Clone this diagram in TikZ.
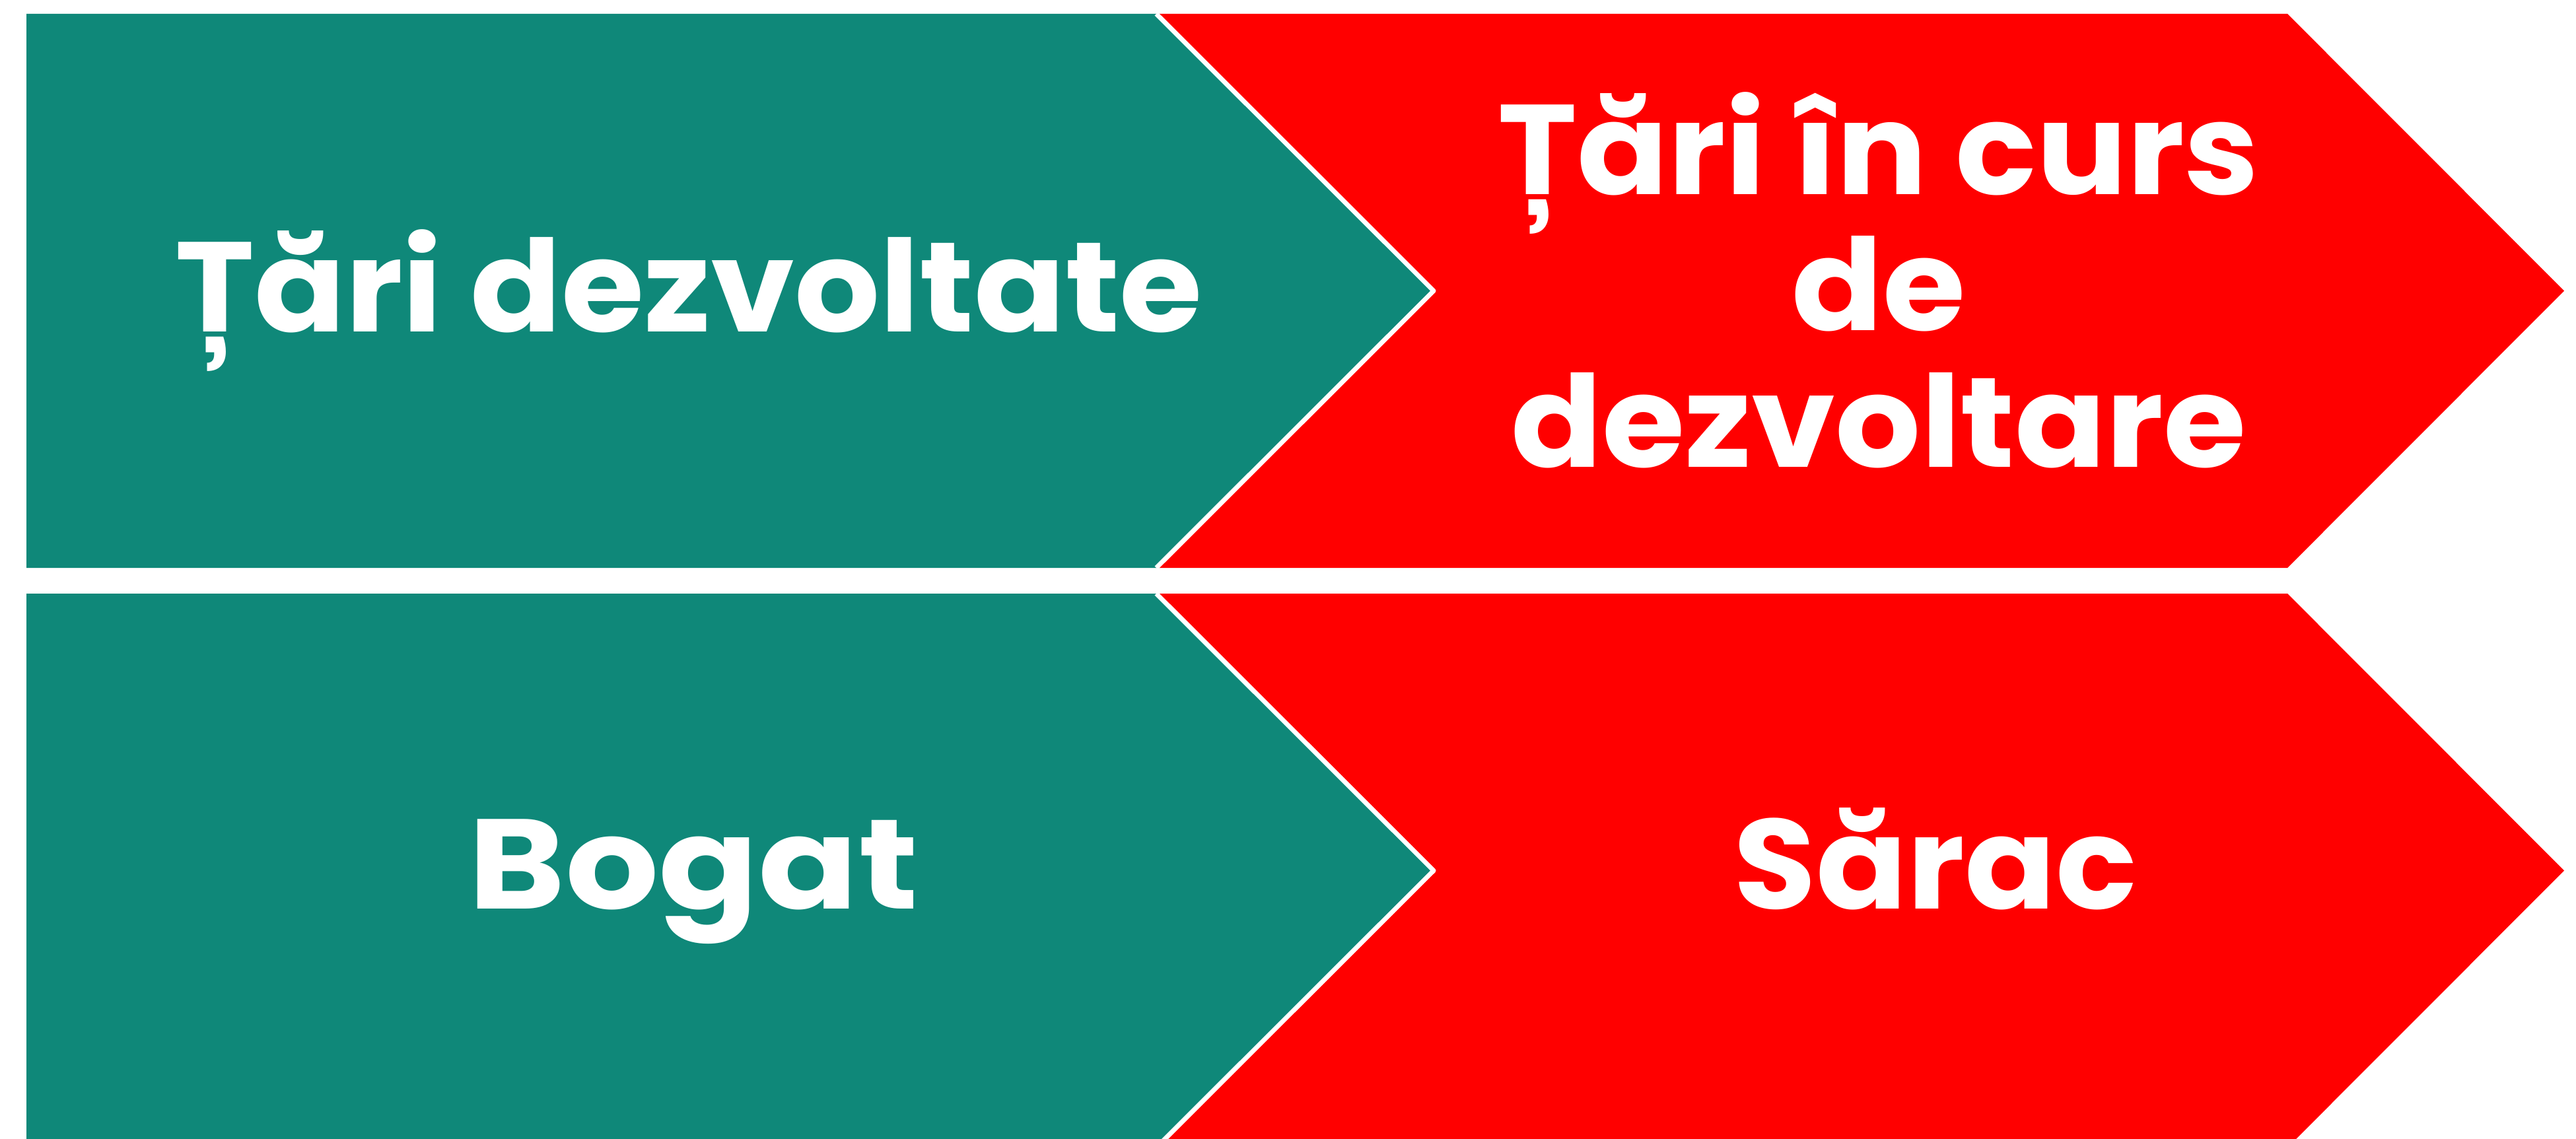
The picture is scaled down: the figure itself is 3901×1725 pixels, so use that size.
\documentclass[tikz,border=0pt]{standalone}
\usepackage{fontspec}
\setmainfont{Poppins}[FakeStretch=1.05]
\newfontfamily\widefont{Poppins}[FakeStretch=1.15]
\definecolor{tealbox}{RGB}{15,136,121}
\definecolor{redbox}{RGB}{255,0,0}
\tikzset{
    lbl/.style={text=white, font=\fontsize{55}{58.7}\selectfont\bfseries, align=center, inner sep=0pt, anchor=base},
    widelbl/.style={lbl, font=\widefont\fontsize{55}{58.7}\selectfont\bfseries},
    gap/.style={draw=white, line width=0.07cm, line join=round}
}
\begin{document}
\begin{tikzpicture}[x=0.01cm,y=-0.01cm]
    \useasboundingbox (0,0) rectangle (3901,1725);
    \clip (0,0) rectangle (3901,1725);
    % top row
    \fill[tealbox] (40,21) -- (1751,21) -- (2171,440.5) -- (1751,860) -- (40,860) -- cycle;
    \fill[redbox] (1751,21) -- (3464,21) -- (3883,440.5) -- (3464,860) -- (1751,860) -- (2171,440.5) -- cycle;
    \draw[gap] (1751,21) -- (2171,440.5) -- (1751,860);
    % bottom row
    \fill[tealbox] (40,899) -- (1751,899) -- (2171,1318.5) -- (1751,1738) -- (40,1738) -- cycle;
    \fill[redbox] (1751,899) -- (3464,899) -- (3883,1318.5) -- (3464,1738) -- (1751,1738) -- (2171,1318.5) -- cycle;
    \draw[gap] (1751,899) -- (2171,1318.5) -- (1751,1738);
    % labels
    \node[lbl] (dev) at (1043,503) {Țări dezvoltate};
    \node[lbl] (undev) at (2845,707) {Țări în curs\\de\\dezvoltare};
    \node[widelbl] (rich) at (1050,1376) {Bogat};
    \node[lbl] (poor) at (2931,1376) {Sărac};
\end{tikzpicture}
\end{document}
